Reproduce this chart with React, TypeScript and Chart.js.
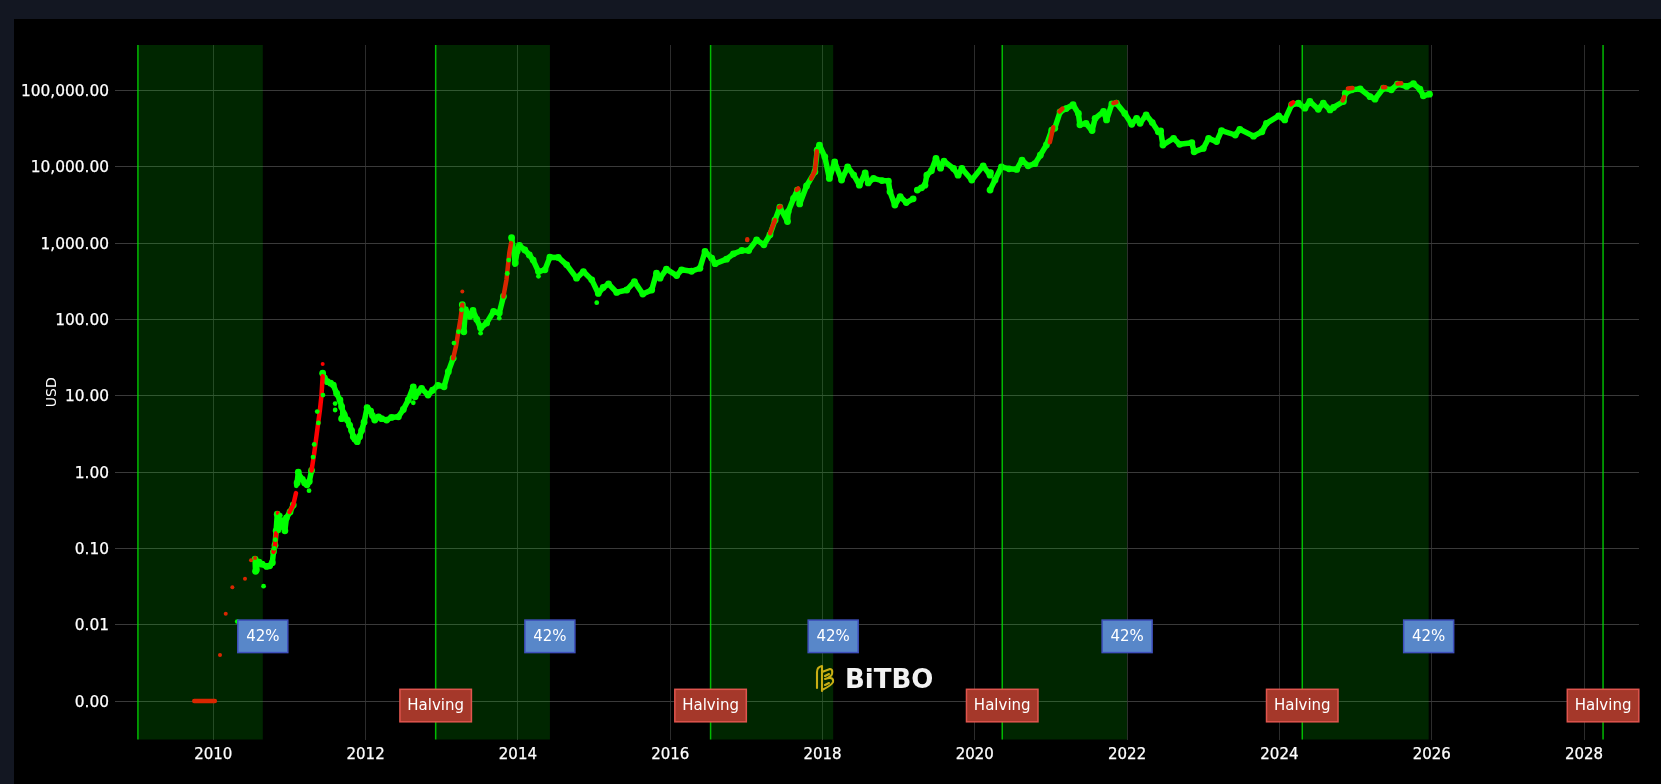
import React, { useEffect, useRef } from 'react';
import { Chart, registerables } from 'chart.js';

Chart.register(...registerables);

const xTicks = [2010, 2012, 2014, 2016, 2018, 2020, 2022, 2024, 2026, 2028];
const yTicks = [0.001, 0.01, 0.1, 1, 10, 100, 1000, 10000, 100000];

const halvings = [2009.01, 2012.92, 2016.53, 2020.36, 2024.3, 2028.25];
const cycleEnds = [2010.65, 2014.42, 2018.14, 2022.0, 2025.96];
const halvingLabels = [2012.92, 2016.53, 2020.36, 2024.3, 2028.25];

// main body of the price cloud, null = break in the line
const greenYears = [
  2010.548, 2010.555, 2010.565, 2010.58, 2010.6, 2010.64, 2010.7, 2010.74, 2010.775, 2010.79, 2010.81, 2010.825, 2010.84, 2010.855, 2010.87, 2010.9, 2010.94, 2010.96, 2011.007, 2011.05, 2011.06,
  2011.1, 2011.116, 2011.14, 2011.17, 2011.2, 2011.23, 2011.26, 2011.29, 2011.3,
  2011.436, 2011.46, 2011.497, 2011.54, 2011.576, 2011.62, 2011.663, 2011.685, 2011.707, 2011.685, 2011.72, 2011.76, 2011.79, 2011.816, 2011.838, 2011.86, 2011.89, 2011.92, 2011.947, 2011.98, 2012.02, 2012.066, 2012.09, 2012.12, 2012.17, 2012.21, 2012.276, 2012.34, 2012.43, 2012.495, 2012.56, 2012.626, 2012.65, 2012.69, 2012.735, 2012.82, 2012.88, 2012.95, 2013.03, 2013.086, 2013.15, 2013.16,
  2013.27, 2013.304, 2013.29, 2013.31, 2013.37, 2013.41, 2013.46, 2013.51, 2013.59, 2013.68, 2013.755, 2013.81, 2013.82,
  2013.917, 2013.94, 2013.965, 2013.99, 2014.02, 2014.09, 2014.15, 2014.2, 2014.27, 2014.355, 2014.42, 2014.53, 2014.64, 2014.77, 2014.86, 2014.97, 2015.056, 2015.12, 2015.19, 2015.297, 2015.43, 2015.53, 2015.64, 2015.757, 2015.82, 2015.866, 2015.95, 2016.085, 2016.15, 2016.28, 2016.39, 2016.457, 2016.545, 2016.59, 2016.74, 2016.83, 2016.94, 2017.03, 2017.135, 2017.23, 2017.31, 2017.376, 2017.44, 2017.54, 2017.55, 2017.62, 2017.67, 2017.7, 2017.79, 2017.9, 2017.93, 2017.96, 2018.03, 2018.09, 2018.16, 2018.25, 2018.33, 2018.41, 2018.484, 2018.56, 2018.6, 2018.67, 2018.78, 2018.865, 2018.886, 2018.95, 2019.02, 2019.1, 2019.19, 2019.2,
  2019.245, 2019.3, 2019.345, 2019.37, 2019.43, 2019.49, 2019.55, 2019.595, 2019.72, 2019.78, 2019.83, 2019.96, 2020.11, 2020.2, 2020.205, 2020.21,
  2020.2, 2020.265, 2020.35, 2020.45, 2020.55, 2020.62, 2020.7, 2020.79, 2020.86, 2020.94, 2021.01, 2021.05, 2021.12, 2021.2, 2021.29, 2021.36, 2021.38, 2021.46, 2021.54, 2021.58, 2021.69, 2021.73, 2021.8, 2021.86, 2021.97, 2022.06, 2022.125, 2022.17, 2022.25, 2022.33, 2022.41, 2022.44, 2022.47, 2022.61, 2022.69, 2022.85, 2022.88, 2023.0, 2023.07, 2023.175, 2023.24, 2023.42, 2023.48, 2023.66, 2023.77, 2023.83, 2023.99, 2024.07, 2024.16, 2024.25, 2024.335, 2024.4, 2024.51, 2024.576, 2024.665, 2024.71, 2024.84, 2024.865, 2024.95, 2025.06, 2025.19, 2025.255, 2025.365, 2025.47, 2025.55, 2025.67, 2025.76, 2025.845, 2025.89, 2025.97
];
const greenPrices = [
  0.072, 0.05, 0.052, 0.064, 0.066, 0.062, 0.058, 0.059, 0.065, 0.09, 0.11, 0.17, 0.28, 0.24, 0.19, 0.23, 0.17, 0.25, 0.3, 0.37, null,
  0.72, 1.0, 0.85, 0.8, 0.72, 0.68, 0.75, 1.05, null,
  19.7, 17, 15.3, 14.6, 13.8, 10.7, 8.8, 7.2, 5.9, 5.0, 5.6, 4.8, 4.1, 3.5, 2.9, 2.7, 2.5, 2.9, 3.5, 4.5, 7.0, 6.3, 5.5, 4.8, 5.3, 5.0, 4.8, 5.2, 5.3, 6.6, 8.8, 13.1, 9.7, 11.2, 12.5, 10.2, 11.8, 13.7, 13.1, 20.7, 31, null,
  156, 116, 69, 134, 110, 131, 100, 77, 90, 127, 121, 200, null,
  1175, 826, 550, 780, 930, 815, 700, 600, 424, 447, 654, 650, 519, 347, 424, 330, 219, 262, 292, 226, 243, 313, 215, 243, 403, 347, 455, 376, 447, 428, 468, 776, 635, 537, 616, 723, 800, 800, 1100, 950, 1288, 2000, 2950, 1918, 2590, 3860, 4960, 3260, 5600, 8600, 16500, 19200, 13500, 7050, 11600, 6700, 10000, 7800, 5750, 8300, 6150, 7050, 6600, 6500, 4720, 3160, 4070, 3400, 3800, null,
  4960, 5300, 5750, 7800, 8870, 12900, 9600, 11860, 9500, 7770, 9500, 6700, 10300, 7770, 8400, null,
  4960, 6700, 10000, 9400, 9230, 12200, 10300, 11000, 14200, 19300, 30300, 32000, 52500, 58000, 65000, 50000, 35500, 37000, 29800, 43200, 53000, 41100, 66800, 68100, 50000, 36000, 43200, 37200, 47900, 38000, 28800, 29500, 19300, 23600, 19700, 20700, 15700, 17400, 23600, 21400, 29800, 26100, 31000, 25200, 28800, 37100, 46400, 41100, 65000, 68000, 58600, 71700, 56800, 68100, 55700, 60000, 71700, 92000, 102000, 105000, 83000, 77000, 107000, 102000, 121000, 113000, 122500, 104000, 85000, 89500
];

// runs of the upper colour on the steep rises
const redYears = [
  2009.75, 2010.02, 2010.03,
  2010.79, 2010.81, 2010.825, 2010.83,
  2011.0, 2011.05, 2011.086, 2011.09,
  2011.29, 2011.322, 2011.345, 2011.37, 2011.4, 2011.42, 2011.436, 2011.44,
  2013.15, 2013.19, 2013.217, 2013.245, 2013.27, 2013.28,
  2013.81, 2013.85, 2013.887, 2013.91, 2013.92,
  2017.01, 2017.012, 2017.02,
  2017.31, 2017.376, 2017.38,
  2017.43, 2017.45, 2017.46,
  2017.66, 2017.68, 2017.69,
  2017.85, 2017.9, 2017.925, 2017.93,
  2020.985, 2021.01, 2021.03, 2021.04,
  2021.11, 2021.15, 2021.16,
  2021.82, 2021.86, 2021.87,
  2024.15, 2024.18, 2024.19,
  2024.83, 2024.85, 2024.86,
  2024.9, 2024.96, 2024.97,
  2025.36, 2025.39, 2025.4,
  2025.55, 2025.6, 2025.61
];
const redPrices = [
  0.001, 0.001, null,
  0.09, 0.11, 0.158, null,
  0.3, 0.37, 0.53, null,
  1.05, 1.68, 2.5, 3.9, 6.5, 10, 18, null,
  31, 46, 69, 100, 156, null,
  200, 333, 745, 1000, null,
  1100, 1120, null,
  1350, 2000, null,
  2950, 3020, null,
  5000, 5200, null,
  7000, 8800, 16000, null,
  21000, 27000, 33000, null,
  53000, 58000, null,
  68500, 70500, null,
  66000, 70000, null,
  74000, 82000, null,
  106000, 108000, null,
  110000, 110500, null,
  123000, 124000, null
];

const redDotYears = [2010.088, 2010.163, 2010.25, 2010.416, 2010.495, 2010.548, 2010.845, 2011.436, 2013.27];
const redDotPrices = [0.004, 0.0139, 0.031, 0.04, 0.07, 0.075, 0.29, 26, 233];

const greenDotYears = [2010.315, 2010.66, 2010.8, 2010.815, 2010.86, 2010.88, 2011.09, 2011.257, 2011.31, 2011.325, 2011.365, 2011.38, 2011.44, 2011.6, 2011.6, 2012.626, 2013.16, 2013.22, 2013.26, 2013.29, 2013.51, 2013.755, 2013.86, 2013.88, 2013.96, 2014.27, 2015.035];
const greenDotPrices = [0.011, 0.032, 0.1, 0.13, 0.17, 0.27, 0.66, 0.57, 1.57, 2.3, 6.2, 4.4, 10.2, 7.9, 6.5, 8.1, 49, 69, 134, 68, 66, 104, 400, 600, 522, 367, 166];

const zip = (xs: number[], ys: (number | null)[]) => xs.map((x, i) => ({ x, y: ys[i] }));

const FONT = '"DejaVu Sans"';

const box = (ctx, cx, top, w, h, fill, line, label) => {
  ctx.fillStyle = fill;
  ctx.fillRect(cx - w / 2, top, w, h);
  ctx.strokeStyle = line;
  ctx.lineWidth = 1.5;
  ctx.strokeRect(cx - w / 2, top, w, h);
  ctx.fillStyle = '#ffffff';
  ctx.textAlign = 'center';
  ctx.textBaseline = 'middle';
  ctx.fillText(label, cx, top + h / 2 + 1);
};

const drawLogo = (ctx, left, top) => {
  ctx.save();
  ctx.translate(left, top);
  ctx.strokeStyle = '#c9ae14';
  ctx.lineWidth = 2.1;
  ctx.lineJoin = 'round';
  ctx.lineCap = 'round';
  ctx.beginPath();
  ctx.moveTo(1, 23);
  ctx.lineTo(1, 7);
  ctx.quadraticCurveTo(1, 2, 6, 1);
  ctx.lineTo(6, 26);
  ctx.moveTo(6, 7);
  ctx.lineTo(14, 4);
  ctx.quadraticCurveTo(17, 4, 16, 9);
  ctx.quadraticCurveTo(15, 12, 9, 14);
  ctx.quadraticCurveTo(18, 11, 17, 17);
  ctx.quadraticCurveTo(16, 20, 6, 25);
  ctx.moveTo(9, 20);
  ctx.lineTo(13, 18);
  ctx.moveTo(9, 11);
  ctx.lineTo(13, 9);
  ctx.stroke();
  ctx.restore();
  ctx.fillStyle = '#f2f2f2';
  ctx.font = `bold 26px ${FONT}`;
  ctx.textAlign = 'left';
  ctx.textBaseline = 'alphabetic';
  ctx.fillText('BiTBO', left + 29, top + 23);
};

// bands sit on top of the points, like plotly shapes
const overlay = {
  id: 'overlay',
  afterDatasetsDraw(chart) {
    const { ctx, chartArea, scales } = chart;
    const { x, y } = scales;
    ctx.save();
    halvings.forEach((start, i) => {
      const px = x.getPixelForValue(start);
      if (i < cycleEnds.length) {
        ctx.fillStyle = 'rgba(0,255,0,0.15)';
        ctx.fillRect(px, chartArea.top, x.getPixelForValue(cycleEnds[i]) - px, chartArea.bottom - chartArea.top);
      }
      ctx.strokeStyle = 'rgba(0,230,0,0.8)';
      ctx.lineWidth = 1.5;
      ctx.beginPath();
      ctx.moveTo(px, chartArea.top);
      ctx.lineTo(px, chartArea.bottom);
      ctx.stroke();
    });
    ctx.font = `15px ${FONT}`;
    cycleEnds.forEach((end) => {
      box(ctx, x.getPixelForValue(end), y.getPixelForValue(0.01) - 4.6, 50, 32.5, '#5887c9', '#3f50bd', '42%');
    });
    halvingLabels.forEach((h) => {
      box(ctx, x.getPixelForValue(h), y.getPixelForValue(0.001) - 11.7, 71.5, 32.5, '#a5382a', '#e0554e', 'Halving');
    });
    drawLogo(ctx, 802, 646);
    ctx.restore();
  }
};

const App = () => {
  const chartRef = useRef<HTMLCanvasElement>(null);

  useEffect(() => {
    if (!chartRef.current) return;
    const chart = new Chart(chartRef.current, {
      type: 'scatter',
      data: {
        datasets: [
          {
            data: zip(greenDotYears, greenDotPrices),
            backgroundColor: '#00ff00',
            pointRadius: 2.4,
            borderWidth: 0,
            order: 0
          },
          {
            data: zip(redDotYears, redDotPrices),
            backgroundColor: '#ff0000',
            pointRadius: 2,
            borderWidth: 0,
            order: 1
          },
          {
            data: zip(redYears, redPrices),
            showLine: true,
            borderColor: '#ff0000',
            borderWidth: 4.5,
            borderCapStyle: 'round',
            borderJoinStyle: 'round',
            pointRadius: 0,
            order: 2
          },
          {
            data: zip(greenYears, greenPrices),
            showLine: true,
            borderColor: '#00ff00',
            borderWidth: 5.5,
            borderCapStyle: 'round',
            borderJoinStyle: 'round',
            pointRadius: 3.4,
            pointBackgroundColor: '#00ff00',
            pointBorderWidth: 0,
            order: 3
          }
        ]
      },
      options: {
        responsive: false,
        animation: false,
        devicePixelRatio: 1,
        events: [],
        layout: { padding: { top: 26, right: 22, left: 0, bottom: 0 } },
        plugins: { legend: { display: false }, tooltip: { enabled: false } },
        scales: {
          x: {
            type: 'linear',
            min: 2008.709,
            max: 2028.722,
            afterBuildTicks: (scale) => {
              scale.ticks = xTicks.map((value) => ({ value }));
            },
            afterFit: (scale) => {
              scale.height = 44.5;
            },
            grid: { color: '#2c2c2c', drawTicks: false },
            border: { display: false },
            ticks: {
              color: '#ffffff',
              font: { family: 'DejaVu Sans', size: 15 },
              padding: 7,
              maxRotation: 0,
              autoSkip: false,
              textStrokeColor: '#ffffff',
              textStrokeWidth: 0.25,
              callback: (v) => String(v)
            }
          },
          y: {
            type: 'logarithmic',
            min: 0.000313,
            max: 394450,
            bounds: 'data',
            afterBuildTicks: (scale) => {
              scale.ticks = yTicks.map((value) => ({ value }));
            },
            afterFit: (scale) => {
              scale.width = 101;
            },
            grid: { color: '#3a3a3a', drawTicks: false },
            border: { display: false },
            title: {
              display: true,
              text: 'USD',
              color: '#ffffff',
              font: { family: 'DejaVu Sans', size: 14 },
              padding: { top: 30, bottom: 0 }
            },
            ticks: {
              color: '#ffffff',
              font: { family: 'DejaVu Sans', size: 15.4 },
              padding: 6,
              labelOffset: 1.5,
              autoSkip: false,
              textStrokeColor: '#ffffff',
              textStrokeWidth: 0.25,
              callback: (v) => Number(v).toLocaleString('en-US', { minimumFractionDigits: 2, maximumFractionDigits: 2 })
            }
          }
        }
      },
      plugins: [overlay]
    });

    return () => {
      chart.destroy();
    };
  }, []);

  return (
    <div style={{ position: 'fixed', left: 0, top: 0, width: 1661, height: 784, background: '#131722', overflow: 'hidden' }}>
      <canvas
        ref={chartRef}
        width={1647}
        height={765}
        style={{ position: 'absolute', left: 14, top: 19, background: '#000000', display: 'block' }}
      />
    </div>
  );
};

export default App;
